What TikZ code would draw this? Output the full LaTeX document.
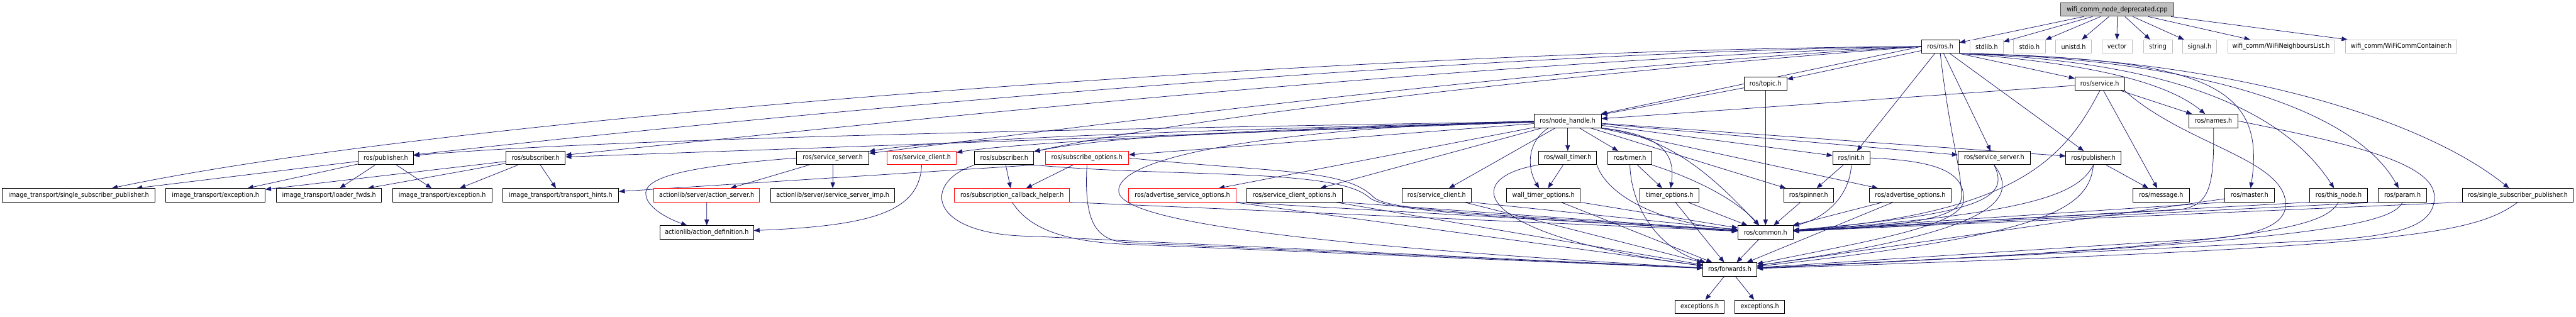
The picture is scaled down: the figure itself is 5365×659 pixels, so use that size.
\documentclass[tikz,border=0pt]{standalone}
\usepackage{fontspec}
\newfontfamily\gvfont{DejaVu Sans Condensed}
\usetikzlibrary{arrows.meta}
\pgfdeclarelayer{bg}
\pgfsetlayers{bg,main}
\definecolor{edgec}{HTML}{191970}
\definecolor{leafc}{HTML}{BFBFBF}
\definecolor{topfill}{HTML}{BFBFBF}
\definecolor{topdraw}{HTML}{404040}
\newcommand\nd[5][]{\node[box,#1,minimum width=#4*0.75pt] (#2) at (#3) {#5};}
\begin{document}
\begin{tikzpicture}[x=0.75pt,y=-0.75pt,
 box/.style={draw=black,line width=0.9pt,fill=white,minimum height=21pt,inner sep=0pt,font=\gvfont\fontsize{10.5pt}{12pt}\selectfont},
 redbox/.style={draw=red},
 leaf/.style={draw=leafc},
 topbox/.style={fill=topfill,draw=topdraw},
 dep/.style={draw=edgec,line width=0.75pt,-{Triangle[length=9pt,width=7pt]}}]
\useasboundingbox (0,0) rectangle (5365,659);
% row 0
\nd[topbox]{n0}{4409.5,20}{235}{wifi\_comm\_node\_deprecated.cpp}
% row 1
\nd{ros}{4041,97}{79}{ros/ros.h}
\nd[leaf]{stdlib}{4137.5,97}{69}{stdlib.h}
\nd[leaf]{stdio}{4226.6,97}{66}{stdio.h}
\nd[leaf]{unistd}{4318.5,97}{74}{unistd.h}
\nd[leaf]{vector}{4409,97}{63}{vector}
\nd[leaf]{string}{4494,97}{60}{string}
\nd[leaf]{signal}{4581,97}{71}{signal.h}
\nd[leaf]{wnl}{4750.8,97}{222}{wifi\_comm/WiFiNeighboursList.h}
\nd[leaf]{wcc}{5001,97}{232}{wifi\_comm/WiFiCommContainer.h}
% row 2
\nd{topic}{3677,174.5}{89}{ros/topic.h}
\nd{service}{4373,174.5}{103}{ros/service.h}
% row 3
\nd{NH}{3265,252}{140}{ros/node\_handle.h}
\nd{names}{4610,252}{103}{ros/names.h}
% row 4
\nd{pubL}{803.5,329}{115}{ros/publisher.h}
\nd{subL}{1115.5,329}{123.5}{ros/subscriber.h}
\nd{ssL}{1734.4,329}{150}{ros/service\_server.h}
\nd[redbox]{scRed}{1919.6,329}{144}{ros/service\_client.h}
\nd{subR}{2091.5,329}{123}{ros/subscriber.h}
\nd[redbox]{subOpt}{2263.8,329}{173.5}{ros/subscribe\_options.h}
\nd{wtimer}{3265,329}{121}{ros/wall\_timer.h}
\nd{timer}{3394.5,329}{91}{ros/timer.h}
\nd{init}{3855.8,329}{77.5}{ros/init.h}
\nd{ssR}{4153,329}{150}{ros/service\_server.h}
\nd{pubR}{4359.8,329}{114.4}{ros/publisher.h}
% row 5
\nd{ITssp}{163.8,406.5}{318.4}{image\_transport/single\_subscriber\_publisher.h}
\nd{ITexcA}{448.8,406.5}{206.4}{image\_transport/exception.h}
\nd{ITloader}{685.3,406.5}{218.5}{image\_transport/loader\_fwds.h}
\nd{ITexcB}{921,406.5}{207}{image\_transport/exception.h}
\nd{IThints}{1167.8,406.5}{241.6}{image\_transport/transport\_hints.h}
\nd[redbox]{actSrv}{1471.8,406.5}{220.5}{actionlib/server/action\_server.h}
\nd{ssImp}{1734.4,406.5}{258.7}{actionlib/server/service\_server\_imp.h}
\nd[redbox]{subCb}{2107.9,406.5}{239.7}{ros/subscription\_callback\_helper.h}
\nd[redbox]{advSrvOpt}{2462.5,406.5}{223}{ros/advertise\_service\_options.h}
\nd{scOpt}{2696,406.5}{198.5}{ros/service\_client\_options.h}
\nd{scBlack}{2992,406.5}{144}{ros/service\_client.h}
\nd{wtOpt}{3214.4,406.5}{152.7}{wall\_timer\_options.h}
\nd{tOpt}{3477.3,406.5}{123}{timer\_options.h}
\nd{spinner}{3766.8,406.5}{104}{ros/spinner.h}
\nd{advOpt}{3978.4,406.5}{170.8}{ros/advertise\_options.h}
\nd{message}{4500.8,406.5}{117.6}{ros/message.h}
\nd{master}{4685,406.5}{103}{ros/master.h}
\nd{thisNode}{4870.5,406.5}{119.7}{ros/this\_node.h}
\nd{param}{5003.7,406.5}{100.4}{ros/param.h}
\nd{sspR}{5243.7,406.5}{231.7}{ros/single\_subscriber\_publisher.h}
% row 6
\nd{actDef}{1472,484}{194.7}{actionlib/action\_definition.h}
\nd{common}{3677,484}{114.8}{ros/common.h}
% row 7
\nd{forwards}{3602.7,561}{112}{ros/forwards.h}
% row 8
\nd{excA}{3540,639}{102.3}{exceptions.h}
\nd{excB}{3665,639}{102.7}{exceptions.h}

\begin{pgfonlayer}{bg}
\foreach \a/\b in {n0/ros,n0/stdlib,n0/stdio,n0/unistd,n0/vector,n0/string,n0/signal,n0/wnl,n0/wcc,
 ros/topic,ros/init,ros/ssR,ros/pubR,
 topic/NH,topic/common,service/NH,service/names,service/message,
 NH/subL,NH/subOpt,NH/advSrvOpt,NH/scOpt,NH/scBlack,NH/wtimer,NH/timer,NH/init,NH/spinner,NH/advOpt,NH/ssR,NH/pubR,
 pubL/ITssp,pubL/ITexcA,pubL/ITloader,pubL/ITexcB,subL/ITexcA,subL/ITloader,subL/ITexcB,subL/IThints,
 ssL/actSrv,ssL/ssImp,actSrv/actDef,subR/subCb,subOpt/subCb,
 advSrvOpt/forwards,scOpt/forwards,scBlack/forwards,wtOpt/forwards,tOpt/forwards,tOpt/common,
 wtimer/wtOpt,timer/tOpt,init/spinner,spinner/common,advOpt/common,advOpt/forwards,
 pubR/message,master/forwards,common/forwards,forwards/excA,forwards/excB}
 \draw[dep] (\a) -- (\b);
\draw[dep] (ros.west) -- (NH);
\draw[dep] (ros.south east) -- (service);
% ros.h long edges to the left
\draw[dep] (ros.west) .. controls (3000,100) and (1000,230) .. (ITssp);
\draw[dep] (ros.west) .. controls (3000,110) and (1600,240) .. (pubL);
\draw[dep] (ros.west) .. controls (3000,130) and (1700,270) .. (subL);
\draw[dep] (ros.west) .. controls (3200,140) and (2200,270) .. (ssL);
\draw[dep] (ros.west) .. controls (3300,150) and (2500,240) .. (subR);
% ros.h edges to the right, running just under the leaf row
\draw[dep] (ros.south east) .. controls (4300,128) and (4500,160) .. (names);
\draw[dep] (ros.south east) .. controls (4600,122) and (4720,180) .. (master);
\draw[dep] (ros.south east) .. controls (4500,126) and (4750,220) .. (thisNode);
\draw[dep] (ros.south east) .. controls (4550,120) and (4900,220) .. (param);
\draw[dep] (ros.south east) .. controls (4650,118) and (5050,250) .. (sspR);
\draw[dep] (ros.south) .. controls (4060,280) and (4085,350) .. (4085,410) .. controls (4085,450) and (4000,470) .. (common);
% init, service_server, publisher (right)
\draw[dep] (init.south) .. controls (3852,410) and (3800,455) .. (common);
\draw[dep] (init.east) .. controls (4040,335) and (4090,360) .. (4090,415) .. controls (4090,470) and (3900,500) .. (forwards);
\draw[dep] (ssR.south) .. controls (4185,410) and (4140,445) .. (common);
\draw[dep] (ssR.south) .. controls (4220,430) and (4100,490) .. (forwards);
\draw[dep] (pubR.south) .. controls (4330,400) and (4250,445) .. (common);
\draw[dep] (pubR.south) .. controls (4350,440) and (4250,490) .. (forwards);
% service, names
\draw[dep] (service.south) .. controls (4300,330) and (4200,445) .. (common);
\draw[dep] (service.south east) .. controls (4550,300) and (4750,330) .. (4760,420) .. controls (4765,470) and (4700,495) .. (4550,500) -- (forwards);
\draw[dep] (names.south) .. controls (4612,400) and (4600,435) .. (4520,438) -- (common);
\draw[dep] (names.east) .. controls (4900,300) and (5070,340) .. (5070,410) .. controls (5070,470) and (5000,490) .. (4850,500) -- (forwards);
% right leaves
\draw[dep] (master.south west) -- (common);
\draw[dep] (thisNode.south west) -- (common);
\draw[dep] (param.south west) -- (common);
\draw[dep] (sspR.south west) -- (common);
\draw[dep] (thisNode.south) .. controls (4840,470) and (4750,510) .. (forwards);
\draw[dep] (param.south) .. controls (4980,470) and (4800,505) .. (forwards);
\draw[dep] (sspR.south) .. controls (5150,490) and (5000,515) .. (forwards);
% node_handle curved edges
\draw[dep] (NH) .. controls (2500,265) and (1300,285) .. (pubL);
\draw[dep] (NH) .. controls (2500,270) and (1950,290) .. (ssL);
\draw[dep] (NH) .. controls (2500,275) and (2100,300) .. (scRed);
\draw[dep] (NH) .. controls (2600,270) and (2300,285) .. (subR);
\draw[dep] (NH.200) .. controls (3180,295) and (3180,350) .. (wtOpt);
\draw[dep] (NH.south east) .. controls (3460,280) and (3490,320) .. (tOpt);
\draw[dep] (NH.south east) .. controls (3480,285) and (3570,370) .. (common);
\draw[dep] (NH.west) .. controls (2700,265) and (2320,320) .. (2330,400) .. controls (2340,460) and (2700,510) .. (forwards);
% timers
\draw[dep] (wtimer.south east) .. controls (3340,390) and (3420,460) .. (common);
\draw[dep] (wtimer.south west) .. controls (3040,370) and (3060,490) .. (forwards);
\draw[dep] (timer.south east) .. controls (3540,375) and (3620,420) .. (common);
\draw[dep] (timer.south) .. controls (3398,440) and (3460,520) .. (forwards);
% row 5 to common
\draw[dep] (subCb.south east) -- (common);
\draw[dep] (advSrvOpt.south east) -- (common);
\draw[dep] (scOpt.south east) -- (common);
\draw[dep] (scBlack.south east) -- (common);
\draw[dep] (wtOpt.south east) -- (common);
% subscriber / subscribe options
\draw[dep] (subR.south east) .. controls (2450,370) and (2780,350) .. (2850,410) .. controls (2880,440) and (3100,450) .. (common);
\draw[dep] (subOpt.east) .. controls (2650,360) and (2800,350) .. (2860,410) .. controls (2890,440) and (3100,445) .. (common);
\draw[dep] (subR.south west) .. controls (1920,380) and (1930,490) .. (2150,492) -- (forwards);
\draw[dep] (subOpt.south) .. controls (2258,450) and (2275,500) .. (2345,505) -- (forwards);
\draw[dep] (subCb.south) .. controls (2140,470) and (2200,500) .. (2330,508) -- (forwards);
\draw[dep] (subR.south east) -- (IThints);
% actionlib
\draw[dep] (scRed.south) .. controls (1915,440) and (1820,470) .. (actDef);
\draw[dep] (ssL.west) .. controls (1450,345) and (1350,365) .. (1345,400) .. controls (1342,430) and (1390,455) .. (actDef);
\end{pgfonlayer}
\end{tikzpicture}
\end{document}
